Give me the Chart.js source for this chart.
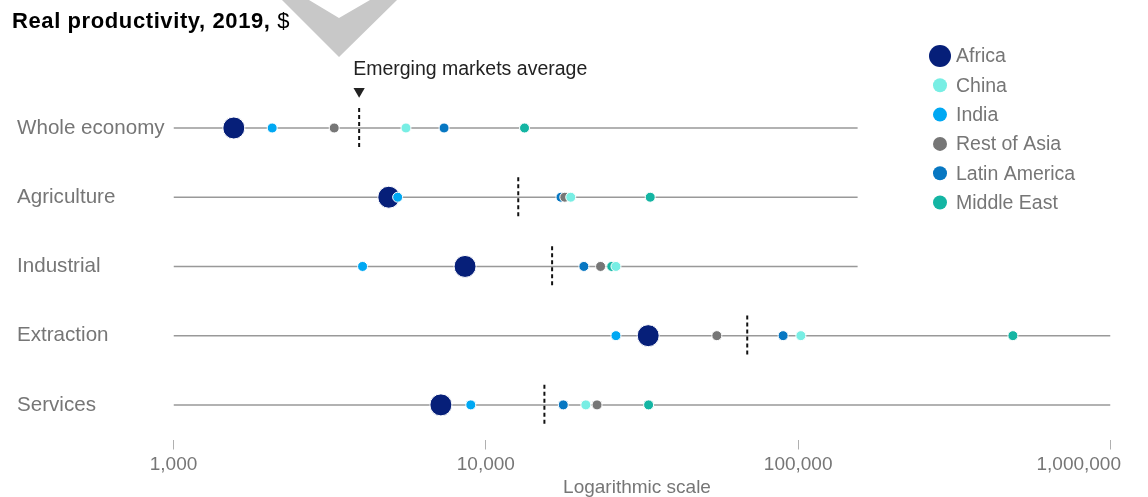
<!DOCTYPE html>
<html>
<head>
<meta charset="utf-8">
<script src="https://cdn.jsdelivr.net/npm/chart.js@4.4.1/dist/chart.umd.min.js"></script>
<style>
  html, body { margin: 0; padding: 0; background: #ffffff; }
  #wrap { width: 1148px; height: 497px; position: relative; }
</style>
</head>
<body>
<div id="wrap"><canvas id="c" width="1148" height="497"></canvas></div>
<script>
// ---------- data ----------
const categories = ['Whole economy', 'Agriculture', 'Industrial', 'Extraction', 'Services'];
const regions = ['Africa', 'China', 'India', 'Rest of Asia', 'Latin America', 'Middle East'];
const africa       = [1560, 4890, 8580, 33100, 7180];
const china        = [5550, 18700, 26100, 102000, 20900];
const india        = [2070, 5220, 4030, 26100, 8950];
const restOfAsia   = [3270, 17900, 23300, 54900, 22700];
const latinAmerica = [7350, 17400, 20600, 89500, 17700];
const middleEast   = [13300, 33600, 25300, 487000, 33200];
const emergingAverage = [3930, 12700, 16300, 68700, 15400];
const rowExtent = [155000, 155000, 155000, 1000000, 1000000];
const xTicks = [1000, 10000, 100000, 1000000];
const titleBold = 'Real productivity, 2019,';
const titleUnit = '$';
const avgLabel = 'Emerging markets average';
const axisTitle = 'Logarithmic scale';

// ---------- styles ----------
const seriesValues = [africa, china, india, restOfAsia, latinAmerica, middleEast];
const regionColors = ['#061f79', '#78eee4', '#00a8f3', '#767676', '#0777c2', '#14b5a3'];
const regionRadius = [11, 5, 5, 5, 5, 5];
const regionOrder = [6, 1, 5, 3, 4, 2]; // lower = drawn on top
const FONT = "'Liberation Sans', Arial, sans-serif";
const GRAY_TEXT = '#767676';

const datasets = [];
categories.forEach((c, i) => {
  datasets.push({
    label: 'row-' + i,
    data: [{x: xTicks[0], y: i}, {x: rowExtent[i], y: i}],
    showLine: true, borderColor: '#999999', borderWidth: 1.5,
    pointRadius: 0, order: 30
  });
  datasets.push({
    label: 'avg-' + i,
    data: [{x: emergingAverage[i], y: i - 0.29}, {x: emergingAverage[i], y: i + 0.29}],
    showLine: true, borderColor: '#111111', borderWidth: 2, borderDash: [4, 3],
    pointRadius: 0, order: 20
  });
});
datasets.push({
  label: 'avg-marker',
  data: [{x: emergingAverage[0], y: -0.53}],
  pointStyle: 'triangle', rotation: 180, pointRadius: 6.5,
  backgroundColor: '#222222', borderWidth: 0, order: 10
});
regions.forEach((r, k) => {
  datasets.push({
    label: r,
    data: categories.map((c, i) => ({x: seriesValues[k][i], y: i})),
    backgroundColor: regionColors[k],
    borderColor: '#ffffff', borderWidth: 1,
    pointRadius: regionRadius[k], pointHoverRadius: regionRadius[k],
    order: regionOrder[k]
  });
});

const decor = {
  id: 'decor',
  beforeDraw(chart) {
    const ctx = chart.ctx;
    ctx.save();
    ctx.fillStyle = '#ffffff';
    ctx.fillRect(0, 0, chart.width, chart.height);
    // grey chevron watermark
    ctx.fillStyle = '#c8c8c8';
    ctx.beginPath();
    ctx.moveTo(282, 0); ctx.lineTo(339, 57); ctx.lineTo(397, 0);
    ctx.lineTo(370, 0); ctx.lineTo(339, 18); ctx.lineTo(309, 0);
    ctx.closePath(); ctx.fill();
    ctx.restore();
  },
  afterDraw(chart) {
    const ctx = chart.ctx;
    const xs = chart.scales.x;
    ctx.save();
    // title
    ctx.textBaseline = 'middle';
    ctx.fillStyle = '#000000';
    ctx.textAlign = 'left';
    ctx.font = 'bold 22px ' + FONT;
    if ('letterSpacing' in ctx) ctx.letterSpacing = '0.6px';
    ctx.fillText(titleBold, 12, 22);
    const w = ctx.measureText(titleBold + ' ').width;
    ctx.font = '22px ' + FONT;
    ctx.fillText(titleUnit, 12 + w, 22);
    if ('letterSpacing' in ctx) ctx.letterSpacing = '0px';
    // annotation
    ctx.font = '19.5px ' + FONT;
    ctx.fillStyle = '#222222';
    ctx.fillText(avgLabel, xs.getPixelForValue(emergingAverage[0]) - 6, 70);
    // legend
    regions.forEach((r, k) => {
      const cy = 56 + k * 29.3;
      ctx.beginPath();
      ctx.fillStyle = regionColors[k];
      ctx.arc(940, cy, k === 0 ? 11 : 7, 0, Math.PI * 2);
      ctx.fill();
      ctx.fillStyle = GRAY_TEXT;
      ctx.font = '19.5px ' + FONT;
      ctx.fillText(r, 956, cy + 1);
    });
    // x tick labels
    ctx.font = '19px ' + FONT;
    ctx.fillStyle = GRAY_TEXT;
    ctx.textAlign = 'center';
    xTicks.forEach(v => {
      const px = xs.getPixelForValue(v);
      const label = v.toLocaleString('en-US');
      const tw = ctx.measureText(label).width;
      const cx = Math.min(px, chart.width - 27 - tw / 2);
      ctx.fillText(label, cx, 465);
    });
    // axis title
    ctx.fillText(axisTitle, (xs.left + xs.right) / 2 - 5, 488);
    ctx.restore();
  }
};

new Chart(document.getElementById('c'), {
  type: 'scatter',
  data: { datasets },
  options: {
    responsive: false,
    animation: false,
    events: [],
    layout: { padding: { left: 17, right: 37.5, top: 38, bottom: 47.5 } },
    plugins: { legend: { display: false }, tooltip: { enabled: false } },
    scales: {
      x: {
        type: 'logarithmic', min: 1000, max: 1000000,
        afterBuildTicks: s => { s.ticks = xTicks.map(v => ({value: v})); },
        grid: { drawOnChartArea: false, drawTicks: true, tickLength: 10, color: '#b0b0b0', lineWidth: 1 },
        border: { display: false },
        ticks: { display: false }
      },
      y: {
        type: 'linear', min: -1.3, max: 4.5, reverse: true,
        afterBuildTicks: s => { s.ticks = categories.map((c, i) => ({value: i})); },
        afterFit: s => { s.width = 156.5; },
        grid: { display: false },
        border: { display: false },
        ticks: {
          callback: v => categories[v],
          crossAlign: 'far', padding: 0,
          color: GRAY_TEXT, font: { family: FONT, size: 20.6 }
        }
      }
    }
  },
  plugins: [decor]
});
</script>
</body>
</html>
